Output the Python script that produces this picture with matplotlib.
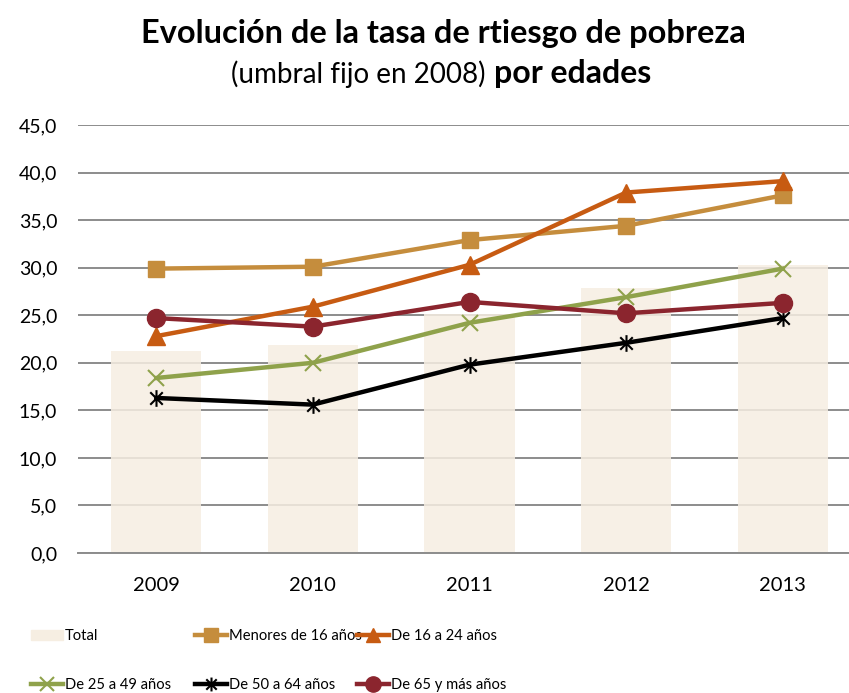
import matplotlib
matplotlib.use("Agg")
import matplotlib.pyplot as plt
from matplotlib.path import Path
from matplotlib.lines import Line2D
from matplotlib.patches import Patch

plt.rcParams['font.family'] = ['Lato', 'DejaVu Sans']

# datos
years = ['2009', '2010', '2011', '2012', '2013']
total = [21.2, 21.9, 25.1, 27.9, 30.3]
menores16 = [29.9, 30.1, 32.9, 34.4, 37.6]
de16a24 = [22.8, 25.9, 30.3, 37.9, 39.1]
de25a49 = [18.4, 20.0, 24.2, 26.9, 29.9]
de50a64 = [16.3, 15.6, 19.8, 22.1, 24.7]
de65 = [24.7, 23.8, 26.4, 25.2, 26.3]
yticks = [0, 5, 10, 15, 20, 25, 30, 35, 40, 45]

# marcador tipo asterisco de Excel (vertical + X)
star = Path([(0, -1), (0, 1), (-0.75, -0.75), (0.75, 0.75), (-0.75, 0.75), (0.75, -0.75)],
            [Path.MOVETO, Path.LINETO, Path.MOVETO, Path.LINETO, Path.MOVETO, Path.LINETO])

c_total = '#F6EEE2'
c_men = '#C58D3D'
c_1624 = '#C75B12'
c_2549 = '#8FA24B'
c_5064 = '#000000'
c_65 = '#8B252E'

fig = plt.figure(figsize=(8.49, 6.93), dpi=100)
ax = fig.add_axes([78/849, 1-553/693, 783/849, 428/693])
x = range(len(years))

ax.set_axisbelow(True)
ax.yaxis.grid(True, color='#8c8c8c', linewidth=1.4)
ax.bar(x, total, width=0.575, color=c_total, alpha=0.85, zorder=2)

lw = 3.2
ax.plot(x, menores16, color=c_men, lw=lw, marker='s', ms=12, zorder=3)
ax.plot(x, de16a24, color=c_1624, lw=lw, marker='^', ms=13, zorder=3)
ax.plot(x, de25a49, color=c_2549, lw=lw, marker='x', ms=12, mew=1.5, zorder=3)
ax.plot(x, de50a64, color=c_5064, lw=lw, marker=star, ms=12, mew=1.5, zorder=3)
ax.plot(x, de65, color=c_65, lw=lw, marker='o', ms=13, zorder=3)

ax.set_xlim(-0.5, 4.5)
ax.set_ylim(0, 45)
ax.set_yticks(yticks)
ax.set_yticklabels([f'{v:.1f}'.replace('.', ',') for v in yticks])
ax.set_xticks(list(x))
ax.set_xticklabels(years)
ax.tick_params(axis='y', length=0, pad=15, labelsize=14)
ax.tick_params(axis='x', length=0, pad=17, labelsize=14.5)
for s in ['top', 'right', 'left']:
    ax.spines[s].set_visible(False)
ax.spines['bottom'].set_color('#8c8c8c')
ax.spines['bottom'].set_linewidth(1.4)

# títulos
fig.text(443/849, 1-34/693, 'Evolución de la tasa de rtiesgo de pobreza', ha='center', va='center',
         fontsize=23.4, fontweight='bold')
fig.text(486/849, 1-74/693, '(umbral fijo en 2008)', ha='right', va='center', fontsize=20)
fig.text(494/849, 1-74/693, 'por edades', ha='left', va='center', fontsize=23, fontweight='bold')

# leyenda en tres columnas
def h(color, marker, ms, mew=1.0):
    return Line2D([], [], color=color, lw=lw, marker=marker, ms=ms, mew=mew)

cols = [
    ([Patch(color=c_total), h(c_2549, 'x', 10, 1.5)], ['Total', 'De 25 a 49 años'], 31),
    ([h(c_men, 's', 10), h(c_5064, star, 10, 1.5)], ['Menores de 16 años', 'De 50 a 64 años'], 195),
    ([h(c_1624, '^', 10), h(c_65, 'o', 11)], ['De 16 a 24 años', 'De 65 y más años'], 357),
]
for handles, labels, xpos in cols:
    leg = fig.legend(handles, labels, loc='upper left', bbox_to_anchor=(xpos/849, 1-629/693),
                     frameon=False, fontsize=10.6, handlelength=2.2, handletextpad=0.1,
                     labelspacing=2.4, borderpad=0, borderaxespad=0)

fig.savefig('out.png', dpi=100)
